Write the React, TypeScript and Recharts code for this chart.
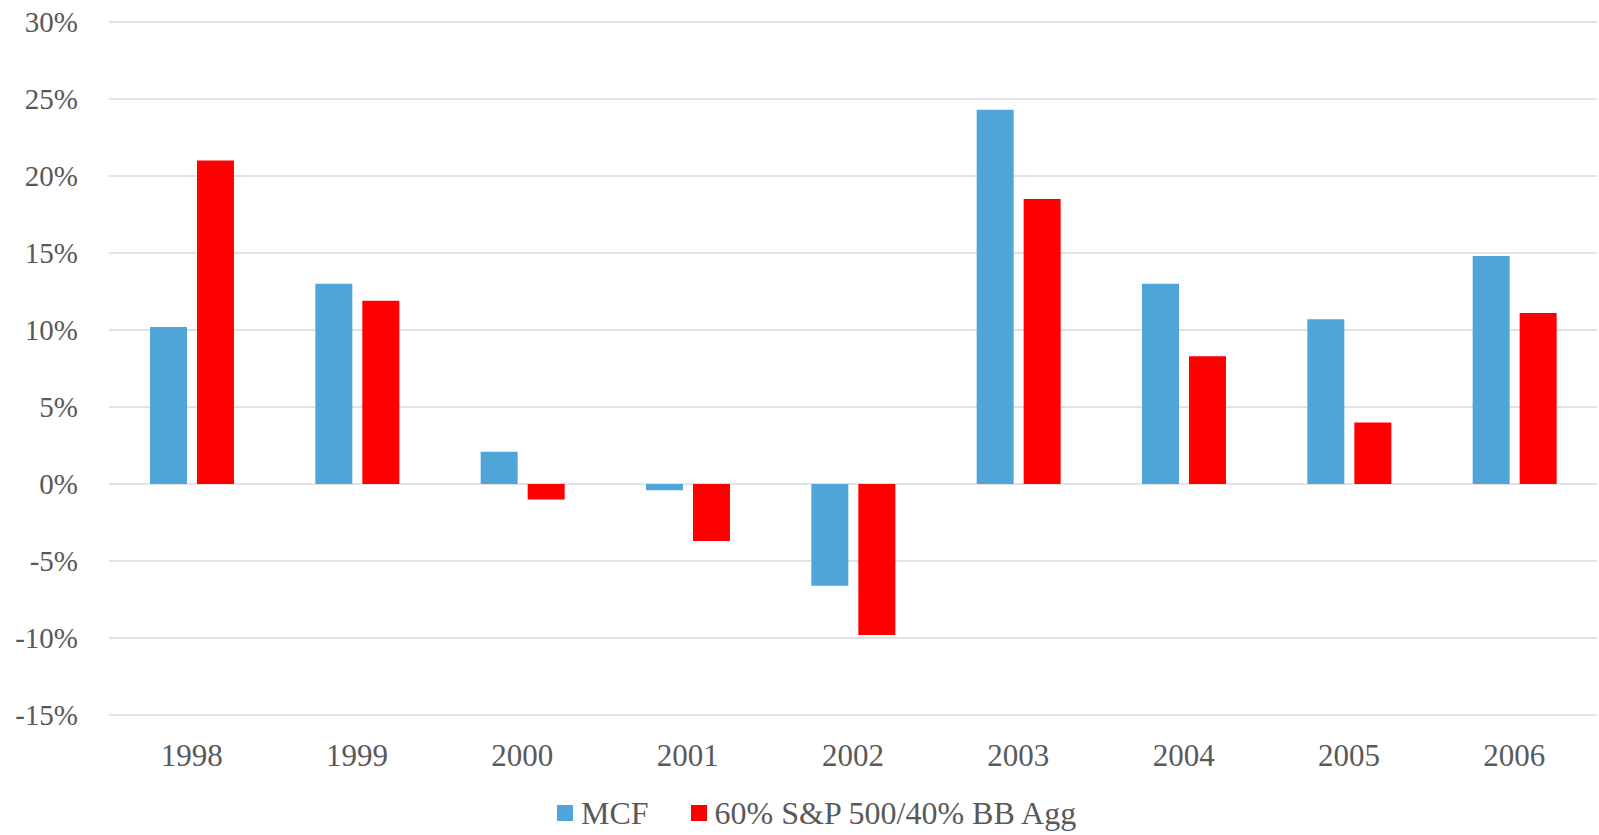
import React from 'react';
import { BarChart, Bar, XAxis, YAxis, CartesianGrid } from 'recharts';

// values read off the reference, in percent
const years = ['1998', '1999', '2000', '2001', '2002', '2003', '2004', '2005', '2006'];
const mcf = [10.2, 13.0, 2.1, -0.4, -6.6, 24.3, 13.0, 10.7, 14.8];
const blend = [21.0, 11.9, -1.0, -3.7, -9.8, 18.5, 8.3, 4.0, 11.1];
const yTicks = [-15, -10, -5, 0, 5, 10, 15, 20, 25, 30];

const data = years.map((year, i) => ({ year, mcf: mcf[i], blend: blend[i] }));

const BLUE = '#4FA5D8';
const RED = '#FF0000';
const TEXT = '#595959';
const FONT = '"Liberation Serif", "Times New Roman", serif';

// legend drawn as plain html under the chart so it doesn't eat plot height
const ChartLegend = () => (
  <div
    style={{
      position: 'absolute',
      left: 557,
      top: 796,
      display: 'flex',
      alignItems: 'center',
      fontFamily: FONT,
      fontSize: 32,
      color: TEXT,
      lineHeight: '34px',
      whiteSpace: 'nowrap',
    }}
  >
    <span style={{ width: 16, height: 16, background: BLUE, display: 'inline-block', marginRight: 8 }} />
    <span style={{ marginRight: 42 }}>MCF</span>
    <span style={{ width: 16, height: 16, background: RED, display: 'inline-block', marginRight: 8 }} />
    <span>60% S&amp;P 500/40% BB Agg</span>
  </div>
);

const App = () => {
  return (
    <div style={{ position: 'absolute', left: 0, top: 0, width: 1599, height: 835, background: '#fff' }}>
      <BarChart
        width={1599}
        height={835}
        data={data}
        margin={{ top: 22, right: 2, left: 0, bottom: 60 }}
        barGap={10}
        barSize={37}
      >
        <CartesianGrid vertical={false} stroke="#d9d9d9" strokeWidth={1.5} />
        <XAxis
          dataKey="year"
          axisLine={false}
          tickLine={false}
          tickMargin={23}
          height={60}
          tick={{ fill: TEXT, fontSize: 31, fontFamily: FONT }}
        />
        <YAxis
          domain={[-15, 30]}
          ticks={yTicks}
          width={109}
          axisLine={false}
          tickLine={false}
          tickMargin={25}
          tickFormatter={(v: number) => `${v}%`}
          tick={{ fill: TEXT, fontSize: 29, fontFamily: FONT }}
        />
        <Bar dataKey="mcf" name="MCF" fill={BLUE} isAnimationActive={false} />
        <Bar dataKey="blend" name="60% S&P 500/40% BB Agg" fill={RED} isAnimationActive={false} />
      </BarChart>
      <ChartLegend />
    </div>
  );
};

export default App;
